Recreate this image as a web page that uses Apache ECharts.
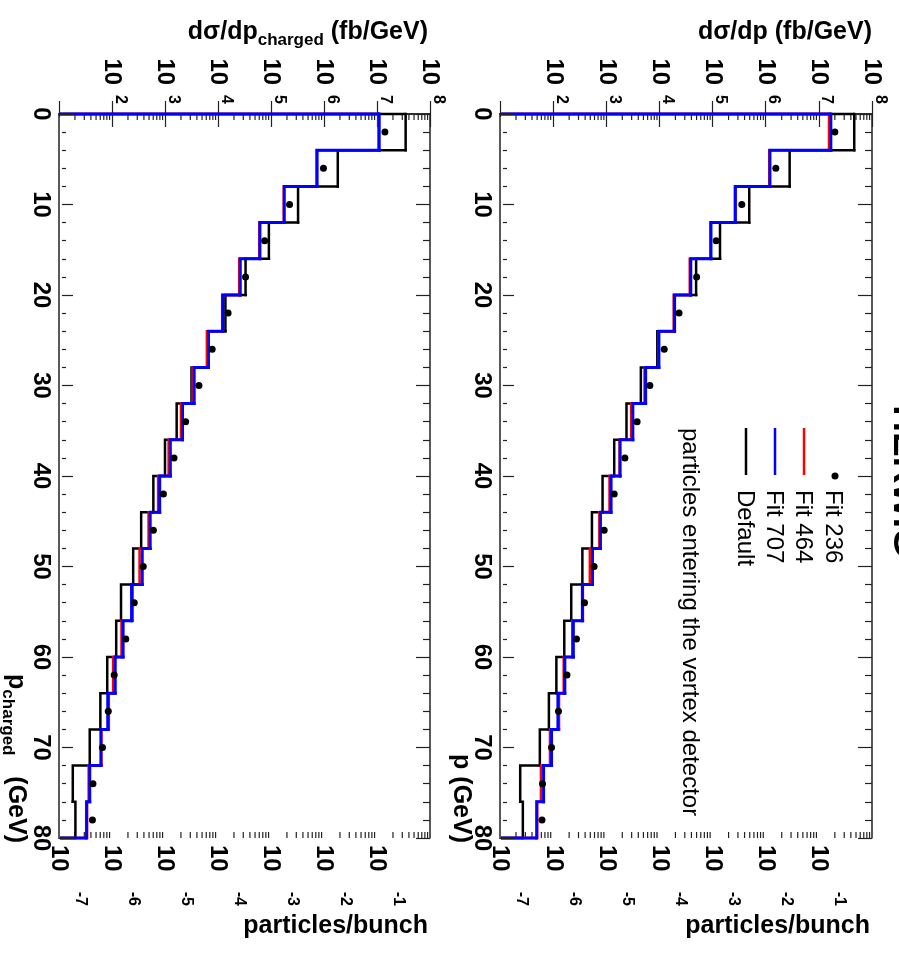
<!DOCTYPE html>
<html><head><meta charset="utf-8">
<script src="https://cdn.jsdelivr.net/npm/echarts@6/dist/echarts.min.js"></script>
<style>html,body{margin:0;padding:0;background:#fff}#c{width:899px;height:958px}</style>
</head><body><div id="c"></div><script>
// ---- data ----
const binEdges = [0,4,8,12,16,20,24,28,32,36,40,44,48,52,56,60,64,68,72,76,80];

// panel "p" (right): dσ/dp in fb/GeV
const defaultP = [4.63e7,2.82e6,4.90e5,1.38e5,4.90e4,1.95e4,9.12e3,4.47e3,2.40e3,1.41e3,851,537,355,219,162,115,83.2,56.2,24.0,26.9];
const fit464P  = [1.55e7,1.17e6,2.63e5,9.12e4,3.72e4,1.86e4,9.55e3,5.25e3,2.95e3,1.78e3,1150,741,490,363,229,158,129,87.1,58.9,50.1];
const fit707P  = [1.68e7,1.20e6,2.69e5,9.33e4,3.89e4,1.91e4,9.77e3,5.50e3,3.16e3,1.82e3,1230,776,550,355,240,166,123,93.3,66.1,49.0];
const fit236P  = [2.00e7,1.55e6,3.55e5,1.17e5,5.01e4,2.34e4,1.23e4,6.61e3,3.80e3,2.24e3,1410,912,589,389,275,182,126,93.3,63.1,61.7];

// panel "p_charged" (left): dσ/dp_charged in fb/GeV
const defaultC = [3.47e7,1.82e6,3.24e5,9.12e4,3.31e4,1.38e4,6.31e3,3.16e3,1.66e3,1.00e3,603,355,251,148,120,81.3,60.3,38.0,18.2,20.4];
const fit464C  = [1.07e7,7.24e5,1.74e5,6.03e4,2.51e4,1.20e4,6.17e3,3.31e3,2.00e3,1.17e3,741,490,331,245,151,105,87.1,63.1,36.3,33.9];
const fit707C  = [1.10e7,7.41e5,1.78e5,6.17e4,2.63e4,1.23e4,6.61e3,3.55e3,2.14e3,1.26e3,794,525,372,234,162,115,83.2,61.7,38.0,33.1];
const fit236C  = [1.41e7,9.77e5,2.24e5,7.59e4,3.31e4,1.55e4,7.76e3,4.37e3,2.45e3,1.48e3,933,603,389,263,182,110,85.1,66.1,43.7,42.7];

const xsecRange = [10, 1e8];      // fb/GeV
const bunchRange = [1e-7, 1];     // particles/bunch
const pRange = [0, 80];
const pTicks = 10;

const legendLabels = ['Fit 236','Fit 464','Fit 707','Default'];
const legendNote = 'particles entering the vertex detector';

// ---- helpers ----
const FONT = '"Liberation Sans", Arial, Helvetica, sans-serif';
const minorVals = [];
for (let n = 1; n < 8; n++) for (let k = 2; k <= 9; k++) minorVals.push([k*Math.pow(10,n), 0]);

const AX = '#222222';
function xAxes(g) {
  return [{
    type:'log', logBase:10, gridIndex:g, position:'top', min:xsecRange[0], max:xsecRange[1],
    axisLine:{show:true, lineStyle:{color:AX, width:1.5}},
    axisTick:{show:true, inside:true, length:13, lineStyle:{color:AX, width:1.2}},
    minorTick:{show:false}, splitLine:{show:false},
    axisLabel:{rotate:-90, margin:10, fontFamily:FONT, color:'#000',
      formatter: v => { const e = Math.round(Math.log10(v)); return e <= 1 ? '' : '{b|10}{e|' + e + '}'; },
      rich:{ b:{fontSize:24, fontWeight:'bold', fontFamily:FONT, color:'#000'},
             e:{fontSize:16, fontWeight:'bold', fontFamily:FONT, color:'#000', padding:[0,0,16,10]} } }
  },{
    type:'log', logBase:10, gridIndex:g, position:'bottom', min:bunchRange[0], max:bunchRange[1],
    axisLine:{show:true, lineStyle:{color:AX, width:1.5}},
    axisTick:{show:true, inside:true, length:13, lineStyle:{color:AX, width:1.2}},
    minorTick:{show:false}, splitLine:{show:false},
    axisLabel:{rotate:-90, margin:7, fontFamily:FONT, color:'#000',
      formatter: v => { const e = Math.round(Math.log10(v)); return e >= 0 ? '' : '{b|10}{e|' + e + '}'; },
      rich:{ b:{fontSize:24, fontWeight:'bold', fontFamily:FONT, color:'#000'},
             e:{fontSize:16, fontWeight:'bold', fontFamily:FONT, color:'#000', padding:[0,0,42,20]} } }
  }];
}
// per grid: [0] left axis with labels/ticks, [1] right mirror axis, [2] hidden axis carrying the series
function yAxes(g) {
  const base = {
    type:'value', gridIndex:g, inverse:true, min:pRange[0], max:pRange[1], interval:pTicks, z:20,
    axisTick:{show:true, inside:true, length:14, lineStyle:{color:AX, width:1.2}},
    minorTick:{show:true, splitNumber:5, length:7, lineStyle:{color:AX, width:1.2}},
    splitLine:{show:false}, minorSplitLine:{show:false}
  };
  return [
    Object.assign({}, base, {position:'left', axisLine:{show:false, onZero:false},
      axisLabel:{rotate:-90, margin:6, fontSize:24, fontWeight:'bold', fontFamily:FONT, color:'#000'}}),
    Object.assign({}, base, {position:'right', axisLine:{show:true, onZero:false, lineStyle:{color:AX, width:1.5}},
      axisLabel:{show:false}}),
    {type:'value', gridIndex:g, inverse:true, min:pRange[0], max:pRange[1], interval:pTicks, show:false,
     position:'left', axisLine:{show:false, onZero:false}, splitLine:{show:false}}
  ];
}
// step histogram body: each bin draws its lower horizontal edge (from the previous bin value) and its vertical edge
function histSeries(xi, yi, vals, color, width) {
  const data = vals.map((v, i) => [v, binEdges[i], binEdges[i+1], i === 0 ? v : vals[i-1]]);
  return {
    type:'custom', xAxisIndex:xi, yAxisIndex:yi, data, clip:false, silent:true, z:3,
    itemStyle:{color:color},
    encode:{x:[0,3], y:[1,2]},
    renderItem:(params, api) => {
      const v = api.value(0), lo = api.value(1), hi = api.value(2), prev = api.value(3);
      const pts = [api.coord([prev, lo]), api.coord([v, lo]), api.coord([v, hi])];
      return {type:'polyline', shape:{points:pts},
              style:{stroke:color, lineWidth:width, fill:null, lineJoin:'miter', lineCap:'square'}};
    }
  };
}
// closing edges of the histogram down to the axis minimum at p = 0 and p = 80
function closeSeries(xi, yi, vals, color, width) {
  const data = [[vals[0], binEdges[0]], [vals[vals.length-1], binEdges[binEdges.length-1]]];
  return {
    type:'custom', xAxisIndex:xi, yAxisIndex:yi, data, clip:false, silent:true, z:3,
    itemStyle:{color:color},
    renderItem:(params, api) => {
      const a = api.coord([xsecRange[0], api.value(1)]), b = api.coord([api.value(0), api.value(1)]);
      return {type:'line', shape:{x1:a[0] + 1, y1:a[1], x2:b[0], y2:b[1]},
              style:{stroke:color, lineWidth:width, lineCap:'butt'}};
    }
  };
}
function panelSeries(g, def, f464, f707, f236) {
  const xi = g*2, yi = g*3 + 2;
  return [
    {type:'custom', xAxisIndex:xi, yAxisIndex:yi, data:minorVals, silent:true, clip:false, z:3,
     itemStyle:{color:AX},
     renderItem:(params, api) => {
       const v = api.value(0);
       const t = api.coord([v, pRange[0]]), b = api.coord([v, pRange[1]]);
       return {type:'group', children:[
         {type:'line', shape:{x1:t[0], y1:t[1], x2:t[0], y2:t[1]+6}, style:{stroke:AX, lineWidth:1.2}},
         {type:'line', shape:{x1:b[0], y1:b[1], x2:b[0], y2:b[1]-6}, style:{stroke:AX, lineWidth:1.2}}]};
     }},
    histSeries(xi, yi, def, '#000000', 2.5),
    closeSeries(xi, yi, def, '#000000', 2.5),
    histSeries(xi, yi, f464, '#ff0000', 2.5),
    closeSeries(xi, yi, f464, '#ff0000', 2.5),
    histSeries(xi, yi, f707, '#0000ff', 3),
    closeSeries(xi, yi, f707, '#0000ff', 3),
    {type:'scatter', xAxisIndex:xi, yAxisIndex:yi, z:4,
     data:f236.map((v, i) => [v, (binEdges[i] + binEdges[i+1]) / 2]),
     symbol:'circle', symbolSize:7, itemStyle:{color:'#000', opacity:1}},
    // left frame edge at the axis minimum, drawn on top (white underlay hides anything beneath it)
    {type:'custom', xAxisIndex:xi, yAxisIndex:yi, data:[[xsecRange[0], pRange[0]]], silent:true, clip:false, z:100,
     itemStyle:{color:AX},
     renderItem:(params, api) => {
       const a = api.coord([xsecRange[0], pRange[0]]), b = api.coord([xsecRange[0], pRange[1]]);
       return {type:'group', children:[
         {type:'line', shape:{x1:a[0], y1:a[1] + 3, x2:b[0], y2:b[1] - 3}, style:{stroke:'#ffffff', lineWidth:6}},
         {type:'line', shape:{x1:a[0], y1:a[1] - 1, x2:b[0], y2:b[1] + 1}, style:{stroke:AX, lineWidth:1.5}}]};
     }}
  ];
}

const T = (x, y, text, extra) => ({type:'text', x, y, style:Object.assign({text, fill:'#000', font:'bold 25px ' + FONT,
  textAlign:'right', textVerticalAlign:'middle'}, extra || {})});
const ROT = -Math.PI/2;
const LF = '24px ' + FONT;

const graphic = [
  T(872, 32, 'dσ/dp (fb/GeV)'),
  {type:'text', x:428, y:32, style:{text:'{a|dσ/dp}{s|charged}{a| (fb/GeV)}', textAlign:'right', textVerticalAlign:'middle',
    rich:{a:{fontSize:25, fontWeight:'bold', fontFamily:FONT, fill:'#000'},
          s:{fontSize:17, fontWeight:'bold', fontFamily:FONT, fill:'#000', padding:[17,0,0,0]}}}},
  T(870, 926, 'particles/bunch'),
  T(428, 926, 'particles/bunch'),
  {type:'text', x:461, y:843, rotation:ROT, style:{text:'p (GeV)', fill:'#000', font:'bold 25px ' + FONT, textAlign:'right', textVerticalAlign:'middle'}},
  {type:'text', x:16, y:843, rotation:ROT, style:{text:'{a|p}{s|charged}{a|   (GeV)}', textAlign:'right', textVerticalAlign:'middle',
    rich:{a:{fontSize:25, fontWeight:'bold', fontFamily:FONT, fill:'#000'},
          s:{fontSize:17, fontWeight:'bold', fontFamily:FONT, fill:'#000', padding:[17,0,0,0]}}}},
  {type:'text', x:904, y:481, rotation:ROT, style:{text:'HERWIG', fill:'#000', font:'bold 37px ' + FONT, textAlign:'center', textVerticalAlign:'middle'}},
  // legend
  {type:'circle', shape:{cx:835, cy:476, r:3.5}, style:{fill:'#000'}},
  {type:'line', shape:{x1:804, y1:428, x2:804, y2:475}, style:{stroke:'#ff0000', lineWidth:2.5}},
  {type:'line', shape:{x1:775, y1:428, x2:775, y2:475}, style:{stroke:'#0000ff', lineWidth:2.5}},
  {type:'line', shape:{x1:746, y1:428, x2:746, y2:475}, style:{stroke:'#000', lineWidth:2.5}},
  {type:'text', x:833, y:490, rotation:ROT, style:{text:legendLabels[0], fill:'#000', font:LF, textAlign:'left', textVerticalAlign:'middle'}},
  {type:'text', x:803, y:490, rotation:ROT, style:{text:legendLabels[1], fill:'#000', font:LF, textAlign:'left', textVerticalAlign:'middle'}},
  {type:'text', x:774, y:490, rotation:ROT, style:{text:legendLabels[2], fill:'#000', font:LF, textAlign:'left', textVerticalAlign:'middle'}},
  {type:'text', x:745, y:490, rotation:ROT, style:{text:legendLabels[3], fill:'#000', font:LF, textAlign:'left', textVerticalAlign:'middle'}},
  {type:'text', x:690, y:428, rotation:ROT, style:{text:legendNote, fill:'#000', font:LF, textAlign:'left', textVerticalAlign:'middle'}}
];

const chart = echarts.init(document.getElementById('c'), null, {renderer:'canvas'});
chart.setOption({
  animation:false,
  backgroundColor:'#fff',
  color:['#222222'],
  grid:[
    {left:59, top:114, width:371, height:724, containLabel:false, outerBoundsMode:'none'},
    {left:500, top:114, width:372, height:724, containLabel:false, outerBoundsMode:'none'}
  ],
  xAxis:[...xAxes(0), ...xAxes(1)],
  yAxis:[...yAxes(0), ...yAxes(1)],
  series:[...panelSeries(0, defaultC, fit464C, fit707C, fit236C), ...panelSeries(1, defaultP, fit464P, fit707P, fit236P)],
  graphic
});
</script></body></html>
